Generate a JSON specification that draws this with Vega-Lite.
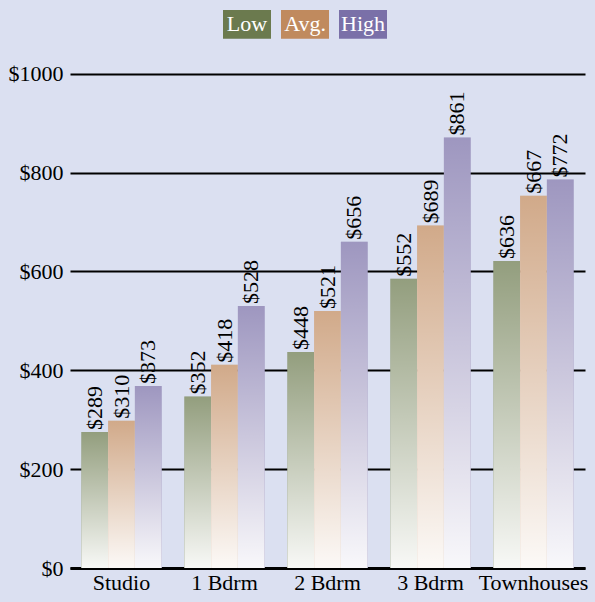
{
  "$schema": "https://vega.github.io/schema/vega-lite/v6.json",
  "width": 515,
  "height": 524,
  "autosize": {"type": "none"},
  "padding": {"left": 70, "top": 44, "right": 10, "bottom": 34},
  "background": "#dbe0f1",
  "config": {
    "view": {"stroke": null},
    "font": "Liberation Serif",
    "bar": {"strokeWidth": 0, "stroke": null}
  },
  "data": {
    "values": [
      {"type": "Studio", "series": "Low", "rent": 275, "label": "$289"},
      {"type": "Studio", "series": "Avg.", "rent": 298, "label": "$310"},
      {"type": "Studio", "series": "High", "rent": 368, "label": "$373"},
      {"type": "1 Bdrm", "series": "Low", "rent": 347, "label": "$352"},
      {"type": "1 Bdrm", "series": "Avg.", "rent": 411, "label": "$418"},
      {"type": "1 Bdrm", "series": "High", "rent": 530, "label": "$528"},
      {"type": "2 Bdrm", "series": "Low", "rent": 437, "label": "$448"},
      {"type": "2 Bdrm", "series": "Avg.", "rent": 520, "label": "$521"},
      {"type": "2 Bdrm", "series": "High", "rent": 660, "label": "$656"},
      {"type": "3 Bdrm", "series": "Low", "rent": 585, "label": "$552"},
      {"type": "3 Bdrm", "series": "Avg.", "rent": 693, "label": "$689"},
      {"type": "3 Bdrm", "series": "High", "rent": 871, "label": "$861"},
      {"type": "Townhouses", "series": "Low", "rent": 621, "label": "$636"},
      {"type": "Townhouses", "series": "Avg.", "rent": 753, "label": "$667"},
      {"type": "Townhouses", "series": "High", "rent": 786, "label": "$772"}
    ]
  },
  "encoding": {
    "x": {
      "field": "type",
      "type": "nominal",
      "sort": ["Studio", "1 Bdrm", "2 Bdrm", "3 Bdrm", "Townhouses"],
      "scale": {"paddingInner": 0.22, "paddingOuter": 0.11},
      "axis": {
        "title": null,
        "labelAngle": 0,
        "ticks": false,
        "grid": false,
        "domainColor": "black",
        "domainWidth": 3,
        "labelPadding": 4,
        "labelFont": "Liberation Serif",
        "labelFontSize": 22,
        "labelColor": "black"
      }
    },
    "xOffset": {"field": "series", "type": "nominal", "sort": ["Low", "Avg.", "High"]},
    "y": {
      "field": "rent",
      "type": "quantitative",
      "scale": {"domain": [0, 1060], "nice": false},
      "axis": {
        "title": null,
        "values": [0, 200, 400, 600, 800, 1000],
        "labelExpr": "'$' + datum.value",
        "ticks": false,
        "domain": false,
        "grid": true,
        "gridColor": "black",
        "gridWidth": 2,
        "gridOpacity": 1,
        "labelPadding": 7,
        "labelFont": "Liberation Serif",
        "labelFontSize": 22,
        "labelColor": "black"
      }
    }
  },
  "layer": [
    {
      "mark": {"type": "bar", "strokeWidth": 0},
      "encoding": {
        "color": {
          "field": "series",
          "type": "nominal",
          "sort": ["Low", "Avg.", "High"],
          "scale": {"domain": ["Low", "Avg.", "High"], "range": ["#6b7a4e", "#c08a5e", "#7a70a8"]},
          "legend": {
            "title": null,
            "orient": "none",
            "legendX": 153,
            "legendY": -44,
            "direction": "horizontal",
            "symbolType": "M-1,-0.6L1,-0.6L1,0.6L-1,0.6Z",
            "symbolSize": 2304,
            "symbolStrokeWidth": 0,
            "symbolOpacity": 1,
            "labelOffset": -24,
            "labelAlign": "center",
            "labelColor": "white",
            "labelFont": "Liberation Serif",
            "labelFontSize": 22,
            "columnPadding": 10
          }
        }
      }
    },
    {
      "mark": {
        "type": "bar",
        "strokeWidth": 0,
        "fill": {
          "gradient": "linear",
          "x1": 0, "y1": 0, "x2": 0, "y2": 1,
          "stops": [
            {"offset": 0, "color": "rgba(255,255,255,0.27)"},
            {"offset": 1, "color": "rgba(255,255,255,0.95)"}
          ]
        }
      }
    },
    {
      "mark": {
        "type": "text",
        "angle": 270,
        "align": "left",
        "baseline": "middle",
        "dx": 2,
        "font": "Liberation Serif",
        "fontSize": 22,
        "fill": "black"
      },
      "encoding": {"text": {"field": "label"}}
    }
  ]
}
